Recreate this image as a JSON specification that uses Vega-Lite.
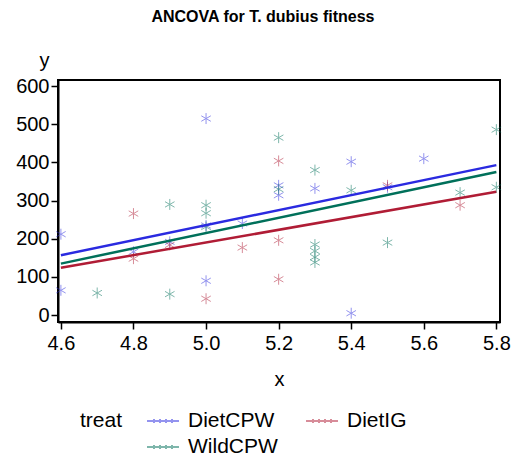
{
  "$schema": "https://vega.github.io/schema/vega-lite/v6.json",
  "width": 442,
  "height": 242,
  "autosize": "none",
  "padding": {"left": 58, "top": 80, "right": 16, "bottom": 137},
  "background": "white",
  "title": {"text": "ANCOVA for T. dubius fitness", "font": "Liberation Sans", "fontSize": 16, "fontWeight": "bold", "color": "black", "anchor": "middle", "frame": "bounds", "offset": 25},
  "config": {
    "view": {"stroke": "black", "strokeWidth": 2},
    "font": "Liberation Sans",
    "axis": {"grid": false, "domainColor": "black", "domainWidth": 2, "tickColor": "black", "tickWidth": 1.5, "tickSize": 7, "labelFont": "Liberation Sans", "labelFontSize": 20, "labelColor": "black", "titleFont": "Liberation Sans", "titleFontSize": 20, "titleFontWeight": "normal", "titleColor": "black"}
  },
  "datasets": {
    "pts": [
      {"treat": "DietCPW", "x": 4.6, "y": 212}, {"treat": "DietCPW", "x": 4.6, "y": 65}, {"treat": "DietCPW", "x": 4.8, "y": 166}, {"treat": "DietCPW", "x": 4.9, "y": 192}, {"treat": "DietCPW", "x": 5.0, "y": 515}, {"treat": "DietCPW", "x": 5.0, "y": 90}, {"treat": "DietCPW", "x": 5.0, "y": 235}, {"treat": "DietCPW", "x": 5.1, "y": 240}, {"treat": "DietCPW", "x": 5.2, "y": 340}, {"treat": "DietCPW", "x": 5.2, "y": 314}, {"treat": "DietCPW", "x": 5.3, "y": 332}, {"treat": "DietCPW", "x": 5.4, "y": 402}, {"treat": "DietCPW", "x": 5.4, "y": 5}, {"treat": "DietCPW", "x": 5.5, "y": 335}, {"treat": "DietCPW", "x": 5.6, "y": 410},
      {"treat": "DietIG", "x": 4.8, "y": 266}, {"treat": "DietIG", "x": 4.8, "y": 148}, {"treat": "DietIG", "x": 4.9, "y": 184}, {"treat": "DietIG", "x": 5.0, "y": 43}, {"treat": "DietIG", "x": 5.1, "y": 177}, {"treat": "DietIG", "x": 5.2, "y": 404}, {"treat": "DietIG", "x": 5.2, "y": 196}, {"treat": "DietIG", "x": 5.2, "y": 94}, {"treat": "DietIG", "x": 5.5, "y": 340}, {"treat": "DietIG", "x": 5.7, "y": 288},
      {"treat": "WildCPW", "x": 4.7, "y": 58}, {"treat": "WildCPW", "x": 4.9, "y": 290}, {"treat": "WildCPW", "x": 4.9, "y": 55}, {"treat": "WildCPW", "x": 5.0, "y": 288}, {"treat": "WildCPW", "x": 5.0, "y": 267}, {"treat": "WildCPW", "x": 5.0, "y": 231}, {"treat": "WildCPW", "x": 5.2, "y": 465}, {"treat": "WildCPW", "x": 5.2, "y": 330}, {"treat": "WildCPW", "x": 5.3, "y": 380}, {"treat": "WildCPW", "x": 5.3, "y": 185}, {"treat": "WildCPW", "x": 5.3, "y": 168}, {"treat": "WildCPW", "x": 5.3, "y": 152}, {"treat": "WildCPW", "x": 5.3, "y": 138}, {"treat": "WildCPW", "x": 5.4, "y": 327}, {"treat": "WildCPW", "x": 5.5, "y": 190}, {"treat": "WildCPW", "x": 5.7, "y": 321}, {"treat": "WildCPW", "x": 5.8, "y": 486}, {"treat": "WildCPW", "x": 5.8, "y": 335}
    ],
    "fit": [
      {"treat": "DietCPW", "x": 4.6, "y": 157}, {"treat": "DietCPW", "x": 5.8, "y": 393},
      {"treat": "DietIG", "x": 4.6, "y": 124}, {"treat": "DietIG", "x": 5.8, "y": 323},
      {"treat": "WildCPW", "x": 4.6, "y": 135}, {"treat": "WildCPW", "x": 5.8, "y": 375}
    ]
  },
  "encoding": {
    "x": {"field": "x", "type": "quantitative", "title": "x", "scale": {"domain": [4.592, 5.81], "nice": false, "zero": false}, "axis": {"values": [4.6, 4.8, 5.0, 5.2, 5.4, 5.6, 5.8], "format": ".1f", "labelPadding": 4, "titlePadding": 16}},
    "y": {"field": "y", "type": "quantitative", "title": "y", "scale": {"domain": [-18, 616], "nice": false, "zero": false}, "axis": {"values": [0, 100, 200, 300, 400, 500, 600], "labelPadding": 2, "titleAngle": 0, "titleAlign": "center", "titleBaseline": "middle", "titleX": -14, "titleY": -20}},
    "color": {"field": "treat", "type": "nominal", "scale": {"domain": ["DietCPW", "DietIG", "WildCPW"], "range": ["#2a2ae0", "#b01c35", "#00705a"]},
      "legend": {"title": "treat", "orient": "none", "legendX": 22, "legendY": 330, "direction": "horizontal", "columns": 2, "titleOrient": "left", "titleAnchor": "start", "titleBaseline": "top", "titleFont": "Liberation Sans", "titleFontSize": 21, "titleFontWeight": "normal", "titleColor": "black", "titlePadding": 23, "labelFont": "Liberation Sans", "labelFontSize": 21, "labelColor": "black", "symbolType": "M-1.6,0L1.6,0M-0.9,-0.2L-0.9,0.2M-0.3,-0.2L-0.3,0.2M0.3,-0.2L0.3,0.2M0.9,-0.2L0.9,0.2", "symbolSize": 400, "symbolStrokeWidth": 2, "labelOffset": 14, "columnPadding": 24, "rowPadding": 5, "symbolOffset": 6}}
  },
  "layer": [
    {"data": {"name": "pts"}, "mark": {"type": "point", "shape": "M0,-1L0,1M-0.87,-0.5L0.87,0.5M-0.87,0.5L0.87,-0.5", "filled": false, "size": 120, "strokeWidth": 1, "opacity": 0.5}},
    {"data": {"name": "fit"}, "mark": {"type": "line", "strokeWidth": 2.5}, "encoding": {"detail": {"field": "treat"}}}
  ]
}
